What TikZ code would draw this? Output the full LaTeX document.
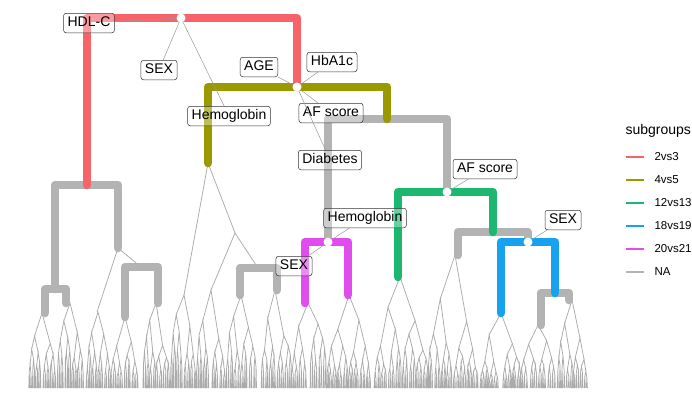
\documentclass[tikz,border=0pt]{standalone}
\usepackage{fontspec}
\setmainfont{Liberation Sans}
\definecolor{cred}{HTML}{F6646A}
\definecolor{colive}{HTML}{9A9A00}
\definecolor{cgreen}{HTML}{1DB870}
\definecolor{cblue}{HTML}{16A2EE}
\definecolor{cmag}{HTML}{E04CEE}
\definecolor{cgray}{HTML}{B3B3B3}
\definecolor{leafgray}{HTML}{ABABAB}
\tikzset{
  thickedge/.style={line width=8.5pt, line cap=round, line join=round},
  thinedge/.style={line width=0.75pt, draw=leafgray},
  lbl/.style={draw=black!80, line width=0.5pt, rounded corners=2.5pt, fill=white, fill opacity=0.35, text opacity=1,
    inner xsep=4pt, inner ysep=3pt, text height=10.5pt, text depth=3pt, font=\fontsize{14}{16}\selectfont},
  lead/.style={draw=black!40, line width=0.5pt},
  wdot/.style={circle, fill=white, inner sep=0pt, minimum size=9pt},
  legtext/.style={anchor=west, font=\fontsize{11.5}{13}\selectfont},
}
\newcommand\leaffan[4]{%
  \begingroup
  \ifnum#4>1
    \pgfmathsetmacro\lfxa{#1-#3*(0.8+0.4*rnd)}%
    \pgfmathsetmacro\lfxb{#1+#3*(0.8+0.4*rnd)}%
    \pgfmathsetmacro\lfya{#2+(388-#2)*(0.2+0.3*rnd)}%
    \pgfmathsetmacro\lfyb{#2+(388-#2)*(0.2+0.3*rnd)}%
    \pgfmathsetmacro\lfhw{#3/2}%
    \pgfmathtruncatemacro\lfd{#4-1}%
    \draw[thinedge] (\lfxa,\lfya) -- (#1,#2) -- (\lfxb,\lfyb);
    \edef\lfnext{\noexpand\leaffan{\lfxa}{\lfya}{\lfhw}{\lfd}\noexpand\leaffan{\lfxb}{\lfyb}{\lfhw}{\lfd}}%
    \lfnext
  \else
    \pgfmathsetmacro\lfxa{#1-#3*(0.8+0.4*rnd)}%
    \pgfmathsetmacro\lfxb{#1+#3*(0.8+0.4*rnd)}%
    \draw[thinedge] (\lfxa,388) -- (#1,#2) -- (\lfxb,388);
  \fi
  \endgroup}
\begin{document}
\begin{tikzpicture}[x=1pt,y=-1pt]
\useasboundingbox (0,0) rectangle (692,408);
\pgfmathsetseed{11}
% internal nodes
\coordinate (root) at (181,18);
\coordinate (nA) at (87,185);
\coordinate (nB) at (297,87);
\coordinate (nC) at (208,163);
\coordinate (nD) at (387,119);
\coordinate (nE) at (328,242);
\coordinate (nF) at (447,192);
\coordinate (nG) at (398,277);
\coordinate (nH) at (493,232);
\coordinate (nI) at (458,255);
\coordinate (nJ) at (528,242);
\coordinate (nK) at (501,313);
\coordinate (nL) at (555,293);
\coordinate (nM) at (541,325);
\coordinate (nN) at (569,300);
\coordinate (nE1) at (305,303);
\coordinate (nE2) at (348,295);
\coordinate (nO) at (55,289);
\coordinate (nO1) at (45,313);
\coordinate (nO2) at (66,303);
\coordinate (nP) at (118,248);
\coordinate (nP1) at (97,312);
\coordinate (nQ) at (141,267);
\coordinate (nQ1) at (125,317);
\coordinate (nQ2) at (158,303);
\coordinate (nC1) at (184,295);
\coordinate (nR) at (235,233);
\coordinate (nR1) at (211,290);
\coordinate (nS) at (258,268);
\coordinate (nS1) at (240,295);
\coordinate (nS2) at (277,290);
% thin fans
\draw[thinedge] (nC1) -- (nC) -- (nR);
\draw[thinedge] (nR1) -- (nR) -- (nS);
\draw[thinedge] (nP1) -- (nP) -- (nQ);
\leaffan{42}{313}{7}{5}
\leaffan{70}{303}{7}{5}
\leaffan{98}{312}{6.5}{5}
\leaffan{125}{317}{7}{5}
\leaffan{156}{303}{7.5}{5}
\leaffan{184}{295}{6.5}{5}
\leaffan{211}{290}{7}{5}
\leaffan{241}{295}{8}{5}
\leaffan{275}{290}{8}{5}
\leaffan{308}{303}{8.5}{5}
\leaffan{349}{295}{11.5}{6}
\leaffan{400}{277}{13.5}{6}
\leaffan{455}{255}{13}{6}
\leaffan{501}{313}{10}{6}
\leaffan{538}{325}{8.5}{5}
\leaffan{572}{300}{8.7}{5}
% thick edges
\draw[thickedge, cgray] (nO) |- (nA) -| (nP);
\draw[thickedge, cgray] (nO1) |- (nO) -| (nO2);
\draw[thickedge, cgray] (nQ1) |- (nQ) -| (nQ2);
\draw[thickedge, cgray] (nS1) |- (nS) -| (nS2);
\draw[thickedge, cgray] (nE) |- (nD) -| (nF);
\draw[thickedge, cgray] (nI) |- (nH) -| (nJ);
\draw[thickedge, cgray] (nM) |- (nL) -| (nN);
\draw[thickedge, cred] (nA) |- (root) -| (nB);
\draw[thickedge, colive] (nC) |- (nB) -| (nD);
\draw[thickedge, cgreen] (nG) |- (nF) -| (nH);
\draw[thickedge, cblue] (nK) |- (nJ) -| (nL);
\draw[thickedge, cmag] (nE1) |- (nE) -| (nE2);
% labels
\node[lbl] (l1) at (89,23) {HDL-C};
\node[lbl] (l2) at (159,70) {SEX};
\node[lbl] (l3) at (229,116) {Hemoglobin};
\node[lbl] (l4) at (259,67) {AGE};
\node[lbl] (l5) at (332,62) {HbA1c};
\node[lbl] (l6) at (331,113) {AF score};
\node[lbl] (l7) at (330,160) {Diabetes};
\node[lbl] (l8) at (485,169) {AF score};
\node[lbl] (l9) at (365,218) {Hemoglobin};
\node[lbl] (l10) at (294,266) {SEX};
\node[lbl] (l11) at (563,220) {SEX};
% leader lines
\draw[lead] (root) -- (l1);
\draw[lead] (root) -- (l2);
\draw[lead] (root) -- (l3);
\draw[lead] (nB) -- (l4);
\draw[lead] (nB) -- (l5);
\draw[lead] (nB) -- (l6);
\draw[lead] (nB) -- (l7);
\draw[lead] (nF) -- (l8);
\draw[lead] (nE) -- (l9);
\draw[lead] (nE) -- (l10);
\draw[lead] (nJ) -- (l11);
% dots
\node[wdot] (d1) at (root) {};
\node[wdot] (d2) at (nB) {};
\node[wdot] (d3) at (nF) {};
\node[wdot] (d4) at (nE) {};
\node[wdot] (d5) at (nJ) {};
% legend
\node[anchor=west, font=\fontsize{14}{16}\selectfont] (lgt) at (622,131) {subgroups};
\foreach \c/\t/\yy [count=\i] in {cred/2vs3/157, colive/4vs5/180, cgreen/12vs13/203, cblue/18vs19/226, cmag/20vs21/249, cgray/NA/272}{
  \coordinate (ls\i) at (626,\yy);
  \coordinate (le\i) at (644,\yy);
  \draw[\c, line width=1.6pt] (ls\i) -- (le\i);
  \node[legtext] (lt\i) at (651,\yy) {\t};
}
\end{tikzpicture}
\end{document}
